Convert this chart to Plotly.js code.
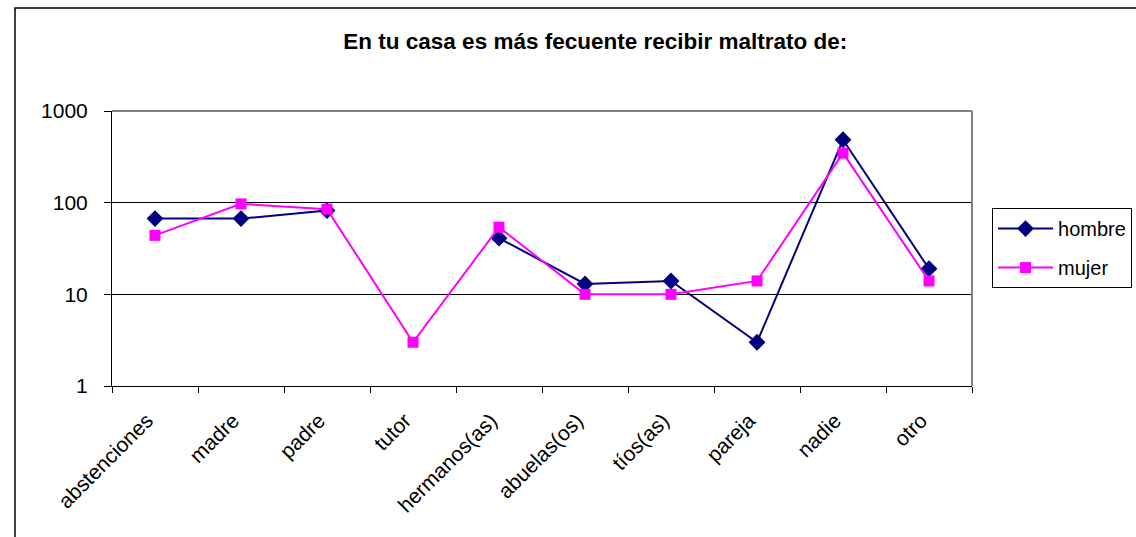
<!DOCTYPE html>
<html>
<head>
<meta charset="utf-8">
<script src="https://cdn.plot.ly/plotly-3.0.1.min.js"></script>
<style>html,body{margin:0;padding:0;background:#fff;}#chart{width:1136px;height:537px;}</style>
</head>
<body>
<div id="chart"></div>
<script>
const categories = ["abstenciones","madre","padre","tutor","hermanos(as)","abuelas(os)","tíos(as)","pareja","nadie","otro"];
const hombre = [67, 67, 82, null, 41, 13, 14, 3, 485, 19];
const mujer  = [44, 97, 85, 3, 54, 10, 10, 14, 347, 14];
const yTicks = [1, 10, 100, 1000];
const yTickLabels = ["1", "10", "100", "1000"];

const FONT = "Liberation Sans, Arial, sans-serif";

const traces = [
  {
    x: categories, y: hombre, name: "hombre", type: "scatter", mode: "lines+markers",
    legendgroup: "h", connectgaps: false,
    line: {color: "#000080", width: 2},
    marker: {symbol: "diamond", size: 13, color: "#000080"}
  },
  {
    x: categories, y: mujer, name: "mujer", type: "scatter", mode: "lines+markers",
    legendgroup: "m",
    line: {color: "#FF00FF", width: 2},
    marker: {symbol: "square", size: 11, color: "#FF00FF"}
  }
];

const layout = {
  width: 1136, height: 537,
  margin: {l: 112, r: 164, t: 111, b: 151, autoexpand: false},
  paper_bgcolor: "#fff", plot_bgcolor: "#fff",
  font: {family: FONT, size: 18, color: "#000"},
  title: {
    text: "<b>En tu casa es más fecuente recibir maltrato de:</b>",
    font: {family: FONT, size: 22.5, color: "#000"},
    x: 0.562, xref: "paper", xanchor: "center", y: 1 - 41/537, yanchor: "middle"
  },
  showlegend: true,
  legend: {
    x: 1.0233, xanchor: "left", y: 0.647, yanchor: "top",
    bordercolor: "#000", borderwidth: 1, bgcolor: "#fff",
    font: {family: FONT, size: 20, color: "#000"},
    traceorder: "grouped", tracegroupgap: 10, itemwidth: 55
  },
  xaxis: {
    type: "category", range: [-0.5, 9.5], tickangle: -45, tickson: "boundaries",
    ticks: "outside", ticklen: 6, tickcolor: "#000", tickwidth: 1,
    ticklabelstandoff: 13, ticklabelshift: -8,
    showline: true, linecolor: "#000", linewidth: 1,
    showgrid: false, zeroline: false,
    tickfont: {family: FONT, size: 21, color: "#000"},
    fixedrange: true
  },
  yaxis: {
    type: "log", range: [0, 3],
    tickvals: yTicks, ticktext: yTickLabels,
    ticks: "outside", ticklen: 7, tickcolor: "#000", tickwidth: 1,
    ticklabelstandoff: 12,
    showline: true, linecolor: "#000", linewidth: 1,
    showgrid: true, gridcolor: "#000", gridwidth: 1,
    zeroline: false,
    tickfont: {family: FONT, size: 21, color: "#000"},
    fixedrange: true
  },
  shapes: [
    {type: "line", xref: "paper", yref: "paper", x0: 0, x1: 1, y0: 1, y1: 1, line: {color: "#808080", width: 2}},
    {type: "line", xref: "paper", yref: "paper", x0: 1, x1: 1, y0: 0, y1: 1, line: {color: "#808080", width: 2}},
    {type: "rect", xref: "paper", yref: "paper", x0: -0.1128, x1: 1.3, y0: -0.7, y1: 1.3745, line: {color: "#000", width: 1.5}, layer: "below"}
  ]
};

Plotly.newPlot("chart", traces, layout, {displayModeBar: false, staticPlot: true});
</script>
</body>
</html>
